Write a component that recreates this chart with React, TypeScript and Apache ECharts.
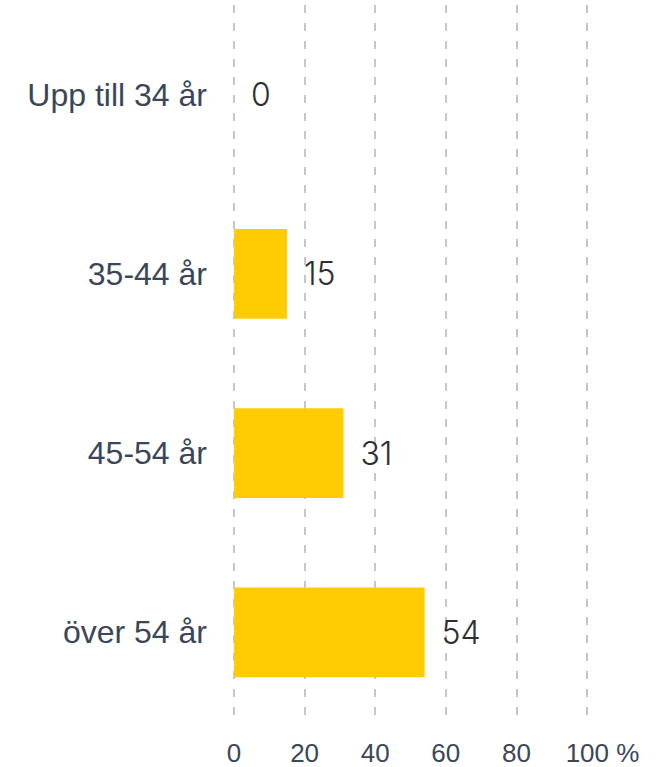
import React, { useEffect, useRef } from "react";
import * as echarts from "echarts";

const categories = ["Upp till 34 år", "35-44 år", "45-54 år", "över 54 år"];
const values = [0, 15, 31, 54];
const tickUnit = "%";

export default function App() {
  const ref = useRef<HTMLDivElement>(null);
  useEffect(() => {
    if (!ref.current) return;
    const chart = echarts.init(ref.current, undefined, { renderer: "svg" });
    chart.setOption({
      animation: false,
      grid: { left: 234, right: 85, top: 5, bottom: 45, containLabel: false },
      xAxis: {
        type: "value",
        min: 0,
        max: 100,
        interval: 20,
        axisLine: { show: false },
        axisTick: { show: false },
        splitLine: {
          show: true,
          lineStyle: { color: "#c6c6c6", width: 2, type: [8, 10] },
        },
        axisLabel: {
          margin: 18,
          fontSize: 26,
          color: "#3b4756",
          fontFamily: "Liberation Sans, Arial, sans-serif",
          formatter: (v: number) =>
            v === 100 ? `{p|}${v} ${tickUnit}` : `${v}`,
          rich: {
            p: { width: 31 },
          },
        },
      },
      yAxis: {
        type: "category",
        data: categories,
        inverse: true,
        axisLine: { show: false },
        axisTick: { show: false },
        splitLine: { show: false },
        axisLabel: {
          margin: 27,
          fontSize: 32,
          color: "#3b4756",
          fontFamily: "Liberation Sans, Arial, sans-serif",
        },
      },
      series: [
        {
          type: "bar",
          data: values,
          barWidth: "50%",
          itemStyle: { color: "#ffcc03" },
          label: {
            show: true,
            position: "right",
            distance: 17,
            fontSize: 32,
            fontWeight: 300,
            color: "#2e2e2e",
            fontFamily: "Inter, sans-serif",
          },
        },
      ],
    });
    return () => chart.dispose();
  }, []);
  return <div ref={ref} style={{ width: 672, height: 767, position: "absolute", left: 0, top: 0 }} />;
}
